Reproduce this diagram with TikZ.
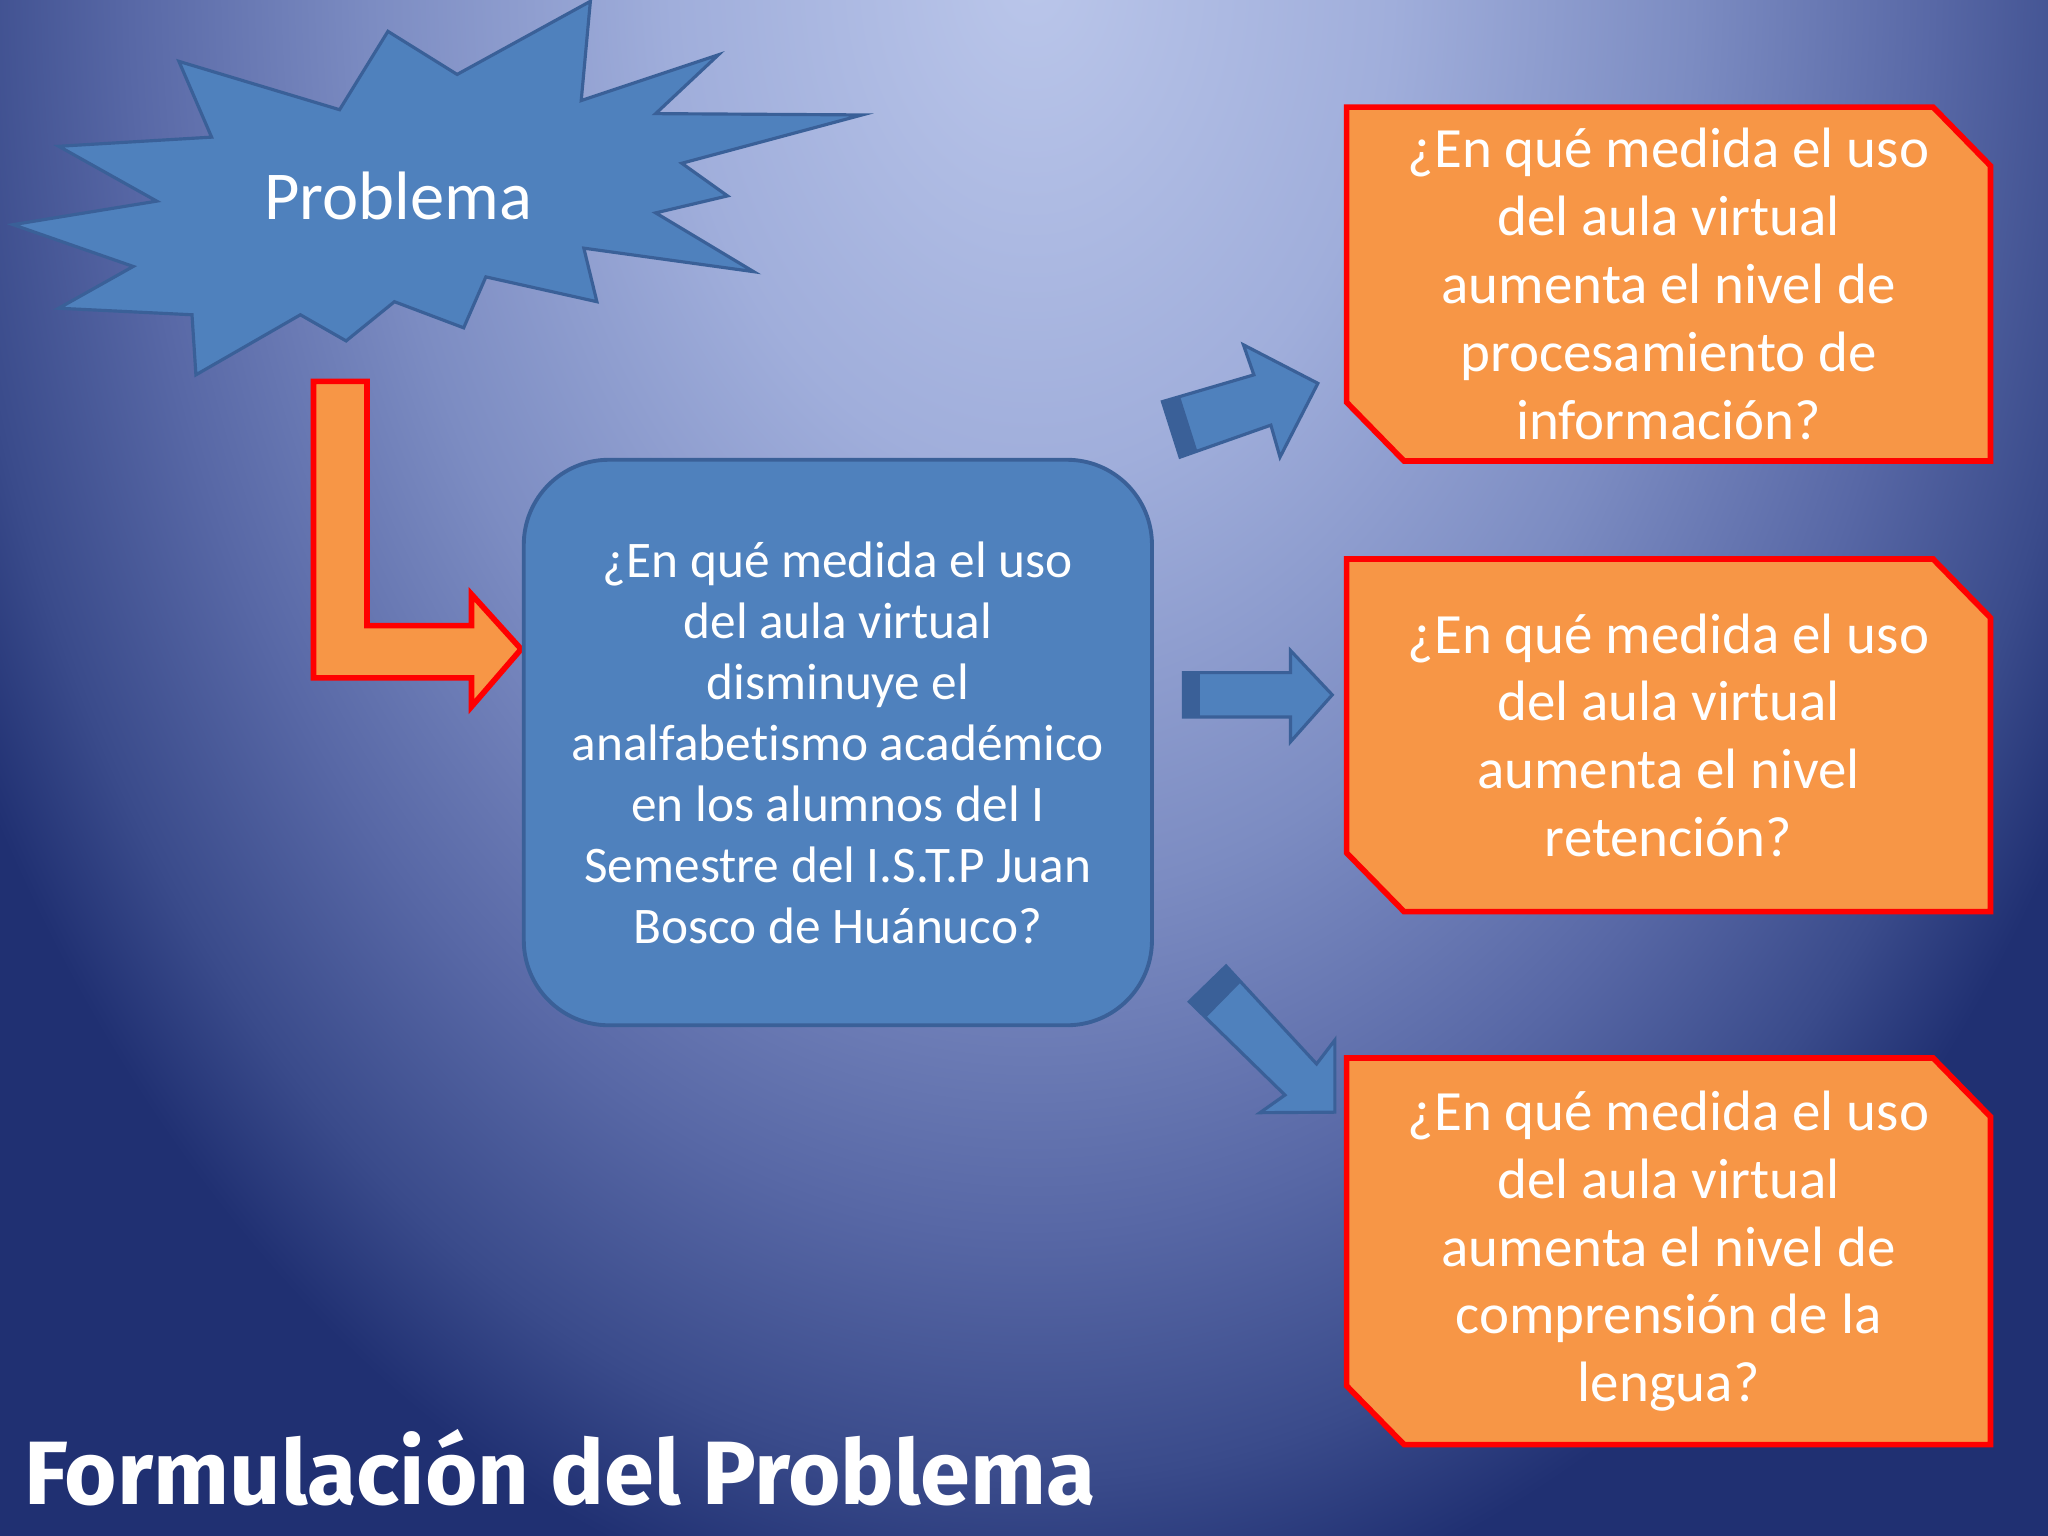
\documentclass[tikz,border=0pt]{standalone}
\usepackage{fontspec}
\setmainfont{Carlito}[Ligatures=NoCommon]
\newfontfamily\titlefont{Fira Sans}
\definecolor{sblue}{RGB}{79,129,189}
\definecolor{sblueline}{RGB}{58,96,152}
\definecolor{sorange}{RGB}{247,150,70}
\definecolor{sred}{RGB}{255,0,0}
\definecolor{bgA}{RGB}{186,198,234}
\definecolor{bgB}{RGB}{160,174,219}
\definecolor{bgC}{RGB}{124,140,194}
\definecolor{bgD}{RGB}{88,104,166}
\definecolor{bgE}{RGB}{58,75,139}
\definecolor{bgF}{RGB}{32,48,114}
\pgfdeclareradialshading{slideglow}{\pgfpoint{0bp}{0bp}}{color(0bp)=(bgA); color(7.5bp)=(bgB); color(13.75bp)=(bgC); color(18.75bp)=(bgD); color(22.5bp)=(bgE); color(25bp)=(bgF); color(50bp)=(bgF)}
% snipped box: centre x, centre y, half height
\newcommand\snipbox[3]{\draw[snipline, shift={(#1,#2)}] (-246.5,-#3) -- (202.5,-#3)
    -- (246.5,45-#3) -- (246.5,#3) -- (-202.5,#3) -- (-246.5,#3-45) -- cycle;}

\begin{document}
\begin{tikzpicture}[x=0.013061cm, y=-0.013061cm, line join=miter,
    blueshape/.style={fill=sblue, draw=sblueline, line width=0.9pt},
    sideband/.style={fill=sblueline},
    redarrow/.style={fill=sorange, draw=sred, line width=1.6pt},
    snipline/.style={fill=sorange, draw=sred, line width=1.6pt},
    mainq/.style={rectangle, rounded corners=0.85cm, fill=sblue, draw=sblueline,
        line width=1.1pt, minimum width=6.282cm, minimum height=5.655cm,
        align=center, text=white, font=\fontsize{14.6pt}{17.35pt}\selectfont},
    question/.style={rectangle, minimum width=6.439cm, inner sep=0pt,
        align=center, text=white, font=\fontsize{16.2pt}{19.3pt}\selectfont}]
    % slide background
    \useasboundingbox (0,0) rectangle (1568,1176);
    \fill[bgF] (0,0) rectangle (1568,1176);
    \begin{scope}
        \clip (0,0) rectangle (1568,1176);
        \shade[shading=slideglow] (790,-20) ellipse (920 and 1280);
    \end{scope}

    % explosion
    \draw[blueshape] (452,1) -- (445,77) -- (550,42) -- (502,87) -- (660,88) -- (522,125)
        -- (557,150) -- (502,163) -- (577,208) -- (447,190) -- (457,231) -- (372,212)
        -- (355,251) -- (302,231) -- (265,261) -- (230,241) -- (150,287) -- (147,241)
        -- (45,236) -- (102,204) -- (10,172) -- (120,154) -- (45,112) -- (162,105)
        -- (137,47) -- (260,84) -- (297,24) -- (350,57) -- cycle;
    \node[text=white, font=\fontsize{19.5pt}{24pt}\selectfont] (problema) at (305,150) {Problema};

    % bent arrow
    \draw[redarrow] (240,292) -- (281,292) -- (281,479) -- (361,479) -- (361,455)
        -- (399,497) -- (361,541) -- (361,519) -- (240,519) -- cycle;

    \node[mainq] (central) at (641.5,568.5) {¿En qué medida el uso\\del aula virtual\\disminuye el\\analfabetismo académico\\en los alumnos del I\\Semestre del I.S.T.P Juan\\Bosco de Huánuco?};

    \snipbox{1277.5}{217.5}{135.5}
    \node[question, minimum height=3.540cm] (q1) at (1277.5,217.5) {¿En qué medida el uso\\del aula virtual\\aumenta el nivel de\\procesamiento de\\información?};
    \snipbox{1277.5}{563}{135}
    \node[question, minimum height=3.526cm] (q2) at (1277.5,563) {¿En qué medida el uso\\del aula virtual\\aumenta el nivel\\retención?};
    \snipbox{1277.5}{958}{148}
    \node[question, minimum height=3.866cm] (q3) at (1277.5,958) {¿En qué medida el uso\\del aula virtual\\aumenta el nivel de\\comprensión de la\\lengua?};

    % block arrows
    \draw[blueshape] (890,307.5) -- (960,287) -- (952,264) -- (1009,293.5) -- (980,350)
        -- (973,325.5) -- (903.5,350) -- cycle;
    \fill[sideband] (890,307.5) -- (903.4,303.3) -- (916.9,345.8) -- (903.5,350) -- cycle;
    \draw[blueshape] (906,515) -- (988,515) -- (988,498) -- (1020,532) -- (988,568)
        -- (988,549) -- (906,549) -- cycle;
    \fill[sideband] (906,515) rectangle (919,549);
    \draw[blueshape] (938.7,739.6) -- (1008,814.6) -- (1022,796.3) -- (1022,851.5)
        -- (964.7,851.9) -- (983.8,838.4) -- (910.6,766.9) -- cycle;
    \fill[sideband] (938.7,739.6) -- (950,752) -- (923.5,779) -- (910.6,766.9) -- cycle;

    \node[anchor=base west, inner sep=0pt, text=white,
        font=\titlefont\bfseries\fontsize{25.6pt}{30pt}\selectfont] (title) at (18,1152) {Formulación del Problema};
\end{tikzpicture}
\end{document}
